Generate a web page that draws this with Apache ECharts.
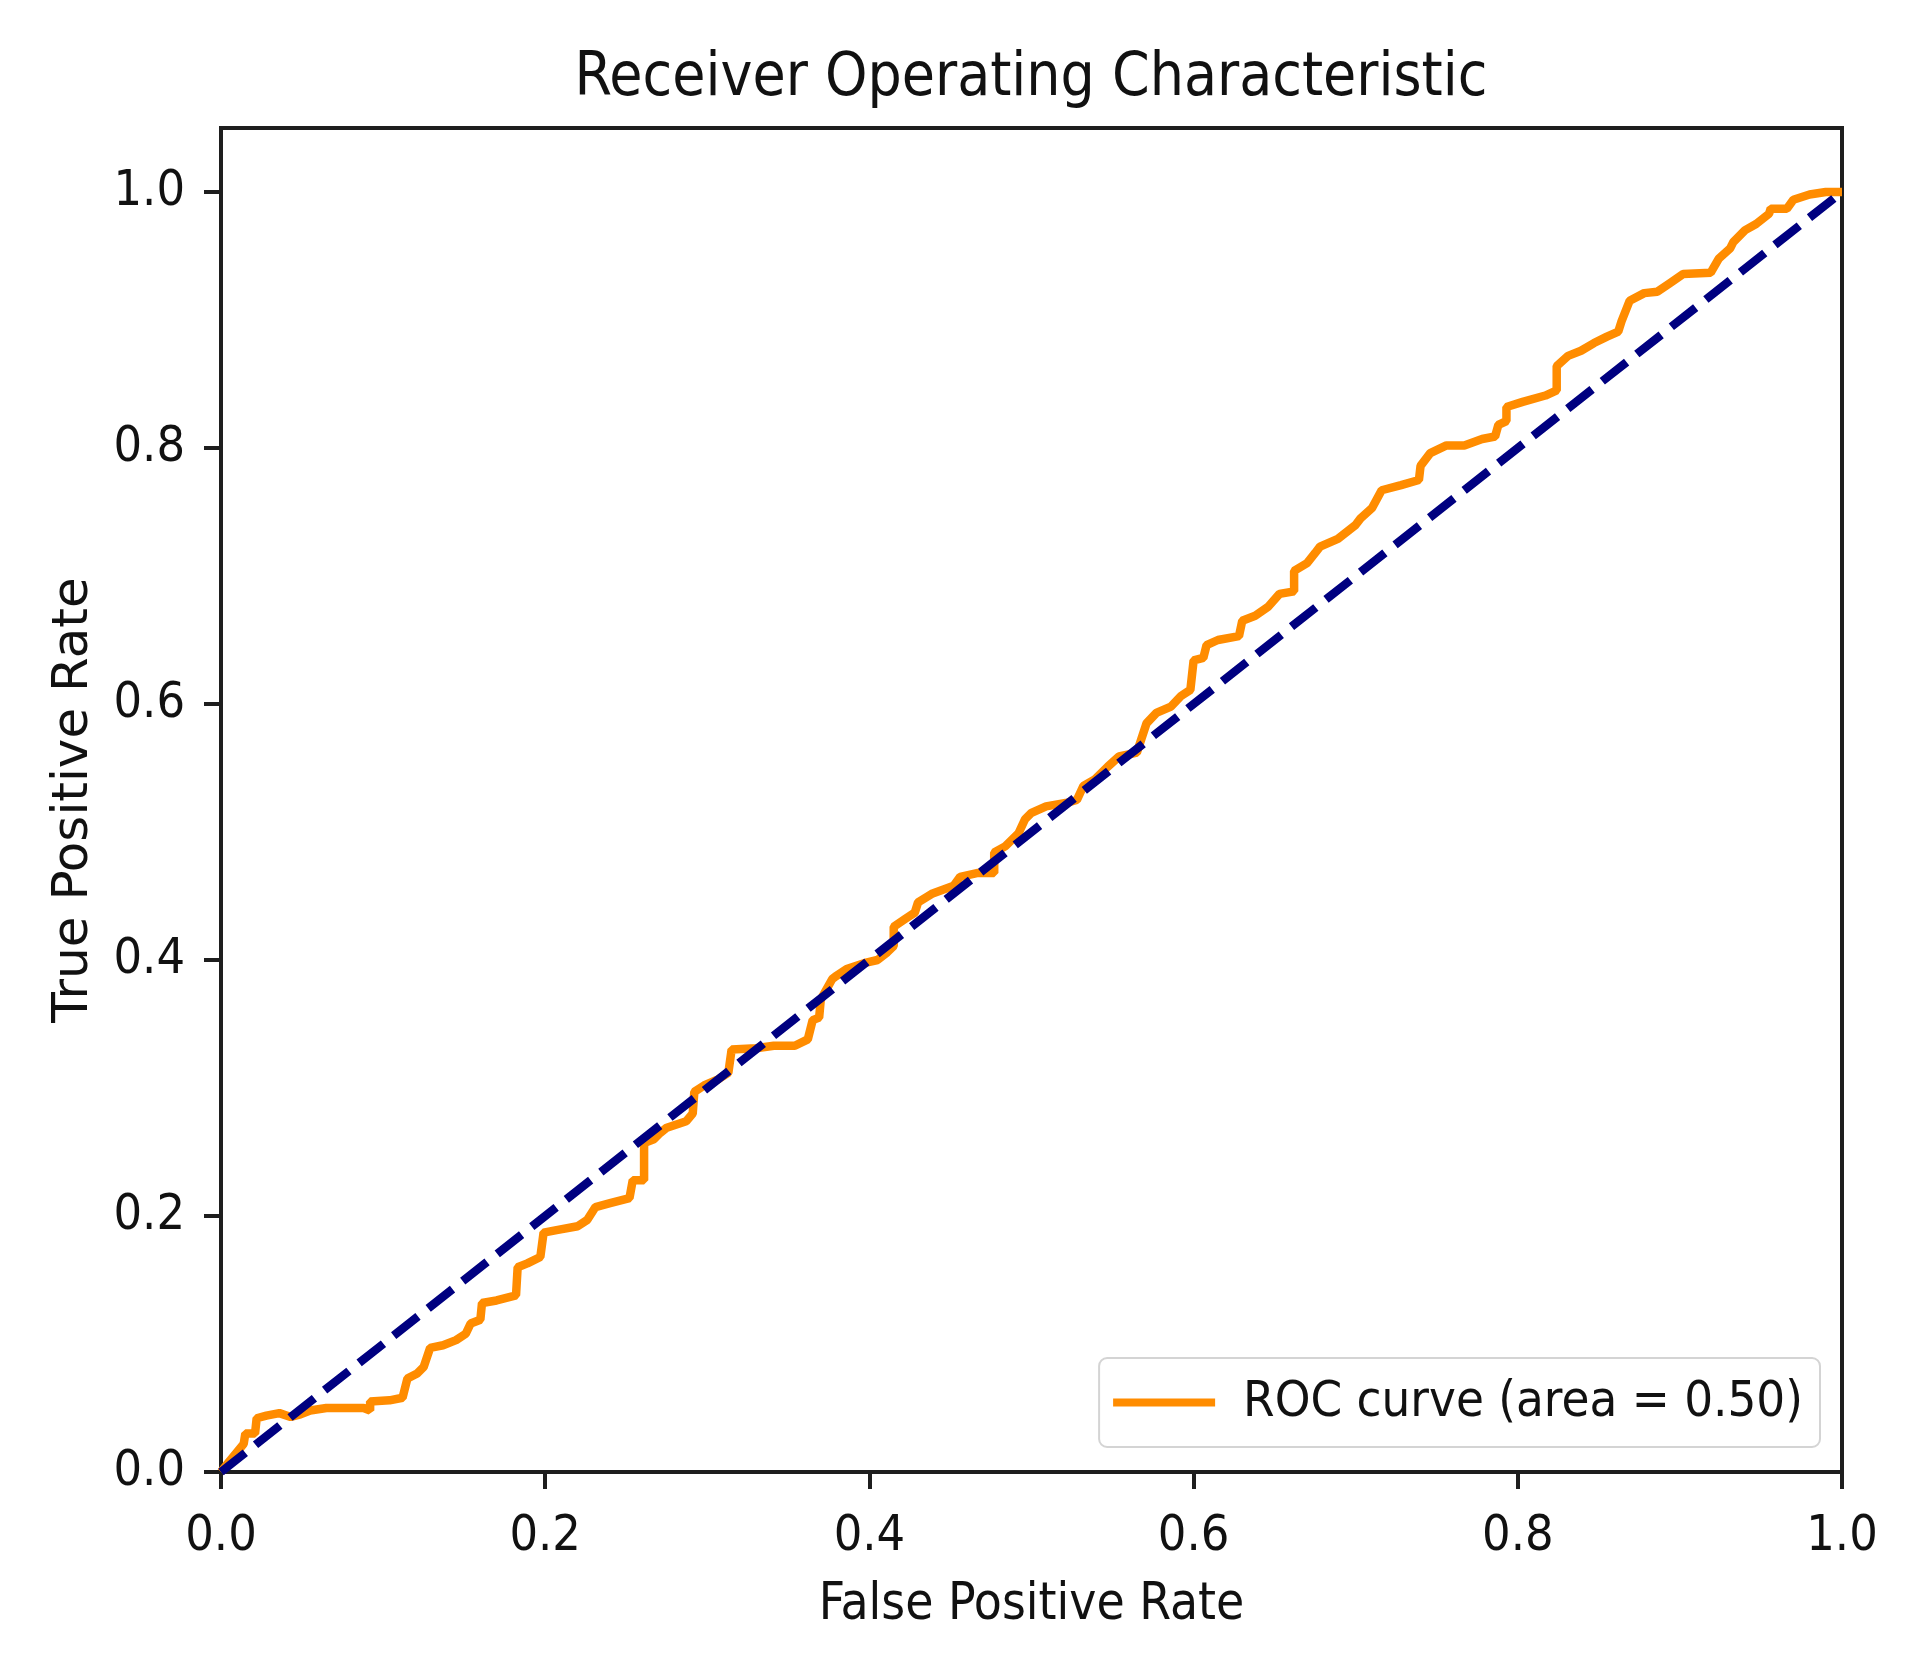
<!DOCTYPE html>
<html>
<head>
<meta charset="utf-8">
<title>Receiver Operating Characteristic</title>
<script src="https://cdn.jsdelivr.net/npm/echarts@6/dist/echarts.min.js"></script>
<style>
	html,body{margin:0;padding:0;background:#fff;}
	#rocChart{width:1926px;height:1658px;}
</style>
</head>
<body>
<div id="rocChart"></div>
<script>
// ROC corner points (false positive rate / true positive rate)
var fprValues = [
	0.000,0.005,0.014,0.015,0.021,0.022,0.028,0.036,0.043,0.049,0.055,0.065,0.075,0.088,0.092,0.092,
	0.104,0.112,0.115,0.121,0.125,0.129,0.137,0.145,0.151,0.154,0.160,0.161,0.170,0.182,0.183,0.189,
	0.197,0.199,0.207,0.220,0.226,0.231,0.240,0.252,0.254,0.261,0.261,0.267,0.271,0.275,0.287,0.291,
	0.292,0.298,0.307,0.313,0.315,0.330,0.341,0.354,0.362,0.365,0.369,0.370,0.377,0.379,0.386,0.398,
	0.405,0.411,0.415,0.415,0.422,0.428,0.430,0.439,0.452,0.456,0.467,0.477,0.477,0.484,0.492,0.496,
	0.500,0.509,0.522,0.528,0.532,0.539,0.547,0.554,0.565,0.571,0.577,0.586,0.592,0.598,0.600,0.606,
	0.608,0.615,0.628,0.630,0.638,0.646,0.653,0.662,0.662,0.670,0.675,0.678,0.689,0.700,0.703,0.710,
	0.716,0.728,0.739,0.740,0.746,0.756,0.767,0.778,0.786,0.788,0.793,0.793,0.803,0.817,0.824,0.824,
	0.831,0.839,0.847,0.855,0.862,0.864,0.869,0.878,0.886,0.894,0.902,0.919,0.924,0.931,0.933,0.940,
	0.947,0.955,0.956,0.966,0.970,0.980,0.990,1.000
];
var tprValues = [
	0.000,0.008,0.022,0.030,0.030,0.042,0.044,0.046,0.043,0.045,0.048,0.050,0.050,0.050,0.048,0.055,
	0.056,0.058,0.073,0.077,0.082,0.097,0.099,0.103,0.108,0.116,0.119,0.132,0.134,0.138,0.160,0.163,
	0.168,0.187,0.189,0.192,0.197,0.207,0.210,0.214,0.228,0.228,0.257,0.260,0.265,0.269,0.274,0.280,
	0.297,0.302,0.307,0.312,0.330,0.331,0.333,0.333,0.338,0.353,0.355,0.369,0.385,0.387,0.393,0.398,
	0.400,0.406,0.411,0.426,0.432,0.437,0.445,0.452,0.458,0.465,0.468,0.468,0.484,0.489,0.499,0.510,
	0.515,0.520,0.523,0.525,0.536,0.541,0.551,0.559,0.562,0.585,0.593,0.598,0.606,0.611,0.634,0.636,
	0.646,0.650,0.653,0.665,0.669,0.676,0.686,0.688,0.704,0.710,0.718,0.723,0.729,0.740,0.745,0.753,
	0.767,0.771,0.775,0.786,0.796,0.802,0.802,0.807,0.809,0.818,0.821,0.832,0.836,0.841,0.845,0.864,
	0.872,0.876,0.882,0.887,0.891,0.899,0.915,0.921,0.922,0.929,0.936,0.937,0.948,0.956,0.961,0.970,
	0.975,0.983,0.987,0.987,0.994,0.998,1.000,1.000
];
var chanceX = [0, 1];
var chanceY = [0, 1];
var xTicks = [0, 0.2, 0.4, 0.6, 0.8, 1.0];
var yTicks = [0, 0.2, 0.4, 0.6, 0.8, 1.0];
var aucText = 'ROC curve (area = 0.50)';

// the picture is squeezed sideways: upright text looks condensed, the rotated label looks stretched
var fontName = "'DejaVu Sans Condensed', 'DejaVu Sans', sans-serif";
var rotatedFont = "'DejaVu Sans', sans-serif";
var inkColor = '#111111';
var frameColor = '#1e1e1e';

function toPairs(xs, ys){
	var out = [];
	for(var i=0;i<xs.length;i++){
		out.push([xs[i], ys[i]]);
	}
	return out;
}

var chart = echarts.init(document.getElementById('rocChart'), null, {renderer:'canvas'});
var option = {
	backgroundColor: '#ffffff',
	animation: false,
	title: {
		text: 'Receiver Operating Characteristic',
		left: 1031,
		top: 49,
		padding: 0,
		textAlign: 'center',
		textStyle: {fontFamily: fontName, fontSize: 60, fontWeight: 'normal', color: inkColor}
	},
	legend: {
		data: [aucText],
		right: 106,
		bottom: 211,
		orient: 'horizontal',
		icon: 'rect',
		itemWidth: 102,
		itemHeight: 8,
		padding: [19, 17, 19, 14],
		backgroundColor: 'rgba(255,255,255,0.8)',
		borderColor: '#d4d4d4',
		borderWidth: 2,
		borderRadius: 8,
		textStyle: {fontFamily: fontName, fontSize: 50.5, color: inkColor, padding: [0, 0, 0, 23]}
	},
	grid: {
		left: 221,
		top: 128,
		width: 1621,
		height: 1344,
		show: true,
		borderColor: frameColor,
		borderWidth: 4,
		backgroundColor: 'transparent',
		containLabel: false
	},
	xAxis: {
		type: 'value',
		min: 0,
		max: 1,
		interval: 0.2,
		name: 'False Positive Rate',
		nameLocation: 'middle',
		nameGap: 108,
		nameTextStyle: {fontFamily: fontName, fontSize: 51, color: inkColor},
		axisLine: {show: false},
		axisTick: {show: true, length: 17, lineStyle: {color: frameColor, width: 4}},
		axisLabel: {
			margin: 40,
			fontFamily: fontName,
			fontSize: 50,
			color: inkColor,
			formatter: function(v){ return v.toFixed(1); }
		},
		splitLine: {show: false}
	},
	yAxis: {
		type: 'value',
		min: 0,
		max: 1.05,
		name: 'True Positive Rate',
		nameLocation: 'middle',
		nameRotate: 90,
		nameGap: 122,
		nameTextStyle: {fontFamily: rotatedFont, fontSize: 50, color: inkColor},
		axisLine: {show: false},
		axisTick: {show: true, length: 17, customValues: yTicks, lineStyle: {color: frameColor, width: 4}},
		axisLabel: {
			margin: 36,
			fontFamily: fontName,
			fontSize: 50,
			color: inkColor,
			customValues: yTicks,
			formatter: function(v){ return v.toFixed(1); }
		},
		splitLine: {show: false}
	},
	series: [
		{
			name: aucText,
			type: 'line',
			data: toPairs(fprValues, tprValues),
			showSymbol: false,
			symbol: 'none',
			smooth: false,
			color: '#ff8c00',
			lineStyle: {color: '#ff8c00', width: 8.5},
			z: 2
		},
		{
			name: 'chance',
			type: 'line',
			data: toPairs(chanceX, chanceY),
			showSymbol: false,
			symbol: 'none',
			color: '#000080',
			lineStyle: {color: '#000080', width: 8.5, type: [31, 13]},
			z: 3
		}
	]
};
chart.setOption(option);
</script>
</body>
</html>
